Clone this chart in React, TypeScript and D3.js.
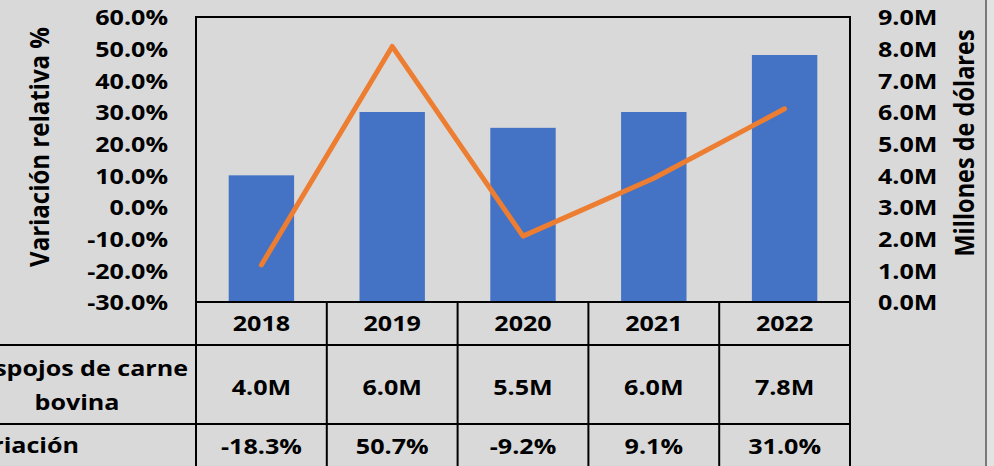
import React from "react";
import * as d3 from "d3";

const years = ["2018", "2019", "2020", "2021", "2022"];
const valuesM = [4.0, 6.0, 5.5, 6.0, 7.8];
const variation = [-18.3, 50.7, -9.2, 9.1, 31.0];
const leftTicks = [-30, -20, -10, 0, 10, 20, 30, 40, 50, 60];
const rightTicks = [0, 1, 2, 3, 4, 5, 6, 7, 8, 9];
const leftTitle = "Variación relativa %";
const rightTitle = "Millones de dólares";
const rowLabel1 = ["Despojos de carne", "bovina"];
const rowLabel2 = "Variación";

const W = 994;
const H = 466;
const L = 196;
const R = 850;
const T = 17;
const B = 302;
const FONT = "'Open Sans', sans-serif";
const FS = 22;
const SX = 1.14;

function Txt({ x, y, anchor, children }: { x: number; y: number; anchor: string; children: React.ReactNode }) {
  return (
    <text
      transform={`translate(${x},${y}) scale(${SX},1)`}
      textAnchor={anchor}
      dominantBaseline="central"
      fontSize={FS}
      fill="#000"
    >
      {children}
    </text>
  );
}

function VTxt({ x, y, size, children }: { x: number; y: number; size: number; children: React.ReactNode }) {
  return (
    <text
      transform={`translate(${x},${y}) rotate(-90) scale(1,${SX})`}
      textAnchor="middle"
      dominantBaseline="central"
      fontSize={size}
      fill="#000"
    >
      {children}
    </text>
  );
}

export default function App() {
  const xBar = d3.scaleBand().domain(years).range([L, R]).paddingInner(0.5).paddingOuter(0.25);
  const xCol = d3.scaleBand().domain(years).range([L, R]);
  const yLeft = d3.scaleLinear().domain([-30, 60]).range([B, T]);
  const yRight = d3.scaleLinear().domain([0, 9]).range([B, T]);
  const line = d3
    .line<number>()
    .x((_, i) => (xCol(years[i]) as number) + xCol.bandwidth() / 2)
    .y((d) => yLeft(d));

  const row1Top = B;
  const row2Top = 345;
  const row3Top = 424;

  return (
    <svg
      width={W}
      height={H}
      style={{ position: "absolute", left: 0, top: 0, background: "#d9d9d9" }}
      fontFamily={FONT}
      fontWeight={700}
    >
      <rect x={0} y={0} width={W} height={H} fill="#d9d9d9" />
      <rect x={987} y={0} width={W - 987} height={H} fill="#e3e3e3" />
      <line x1={986} x2={986} y1={0} y2={H} stroke="#7a7a7a" strokeWidth={2} />

      {/* bars */}
      {years.map((yr, i) => (
        <rect
          key={yr}
          x={xBar(yr)}
          y={yRight(valuesM[i])}
          width={xBar.bandwidth()}
          height={B - yRight(valuesM[i])}
          fill="#4472c4"
        />
      ))}

      {/* line */}
      <path
        d={line(variation) || ""}
        fill="none"
        stroke="#ed7d31"
        strokeWidth={5}
        strokeLinecap="round"
        strokeLinejoin="round"
      />

      {/* frame */}
      <rect x={L} y={T} width={R - L} height={B - T} fill="none" stroke="#000" strokeWidth={2} />

      {/* left ticks */}
      {leftTicks.map((t) => (
        <Txt key={"l" + t} x={168} y={yLeft(t)} anchor="end">
          {t.toFixed(1) + "%"}
        </Txt>
      ))}
      {/* right ticks */}
      {rightTicks.map((t) => (
        <Txt key={"r" + t} x={878} y={yRight(t)} anchor="start">
          {t.toFixed(1) + "M"}
        </Txt>
      ))}

      {/* axis titles */}
      <VTxt x={38} y={147} size={24}>
        {leftTitle}
      </VTxt>
      <VTxt x={963} y={143} size={23.5}>
        {rightTitle}
      </VTxt>

      {/* table lines */}
      <line x1={0} x2={R} y1={row2Top} y2={row2Top} stroke="#000" strokeWidth={2} />
      <line x1={0} x2={R} y1={row3Top} y2={row3Top} stroke="#000" strokeWidth={2} />
      {years.map((yr) => (
        <line
          key={"v" + yr}
          x1={xCol(yr)}
          x2={xCol(yr)}
          y1={row1Top}
          y2={H}
          stroke="#000"
          strokeWidth={2}
        />
      ))}
      <line x1={R} x2={R} y1={row1Top} y2={H} stroke="#000" strokeWidth={2} />

      {/* table text */}
      {years.map((yr, i) => {
        const cx = (xCol(yr) as number) + xCol.bandwidth() / 2;
        return (
          <g key={"t" + yr}>
            <Txt x={cx} y={323} anchor="middle">
              {yr}
            </Txt>
            <Txt x={cx} y={387} anchor="middle">
              {valuesM[i].toFixed(1) + "M"}
            </Txt>
            <Txt x={cx} y={446} anchor="middle">
              {variation[i].toFixed(1) + "%"}
            </Txt>
          </g>
        );
      })}
      <Txt x={188} y={368} anchor="end">
        {rowLabel1[0]}
      </Txt>
      <Txt x={77} y={402} anchor="middle">
        {rowLabel1[1]}
      </Txt>
      <Txt x={79} y={445} anchor="end">
        {rowLabel2}
      </Txt>
    </svg>
  );
}
